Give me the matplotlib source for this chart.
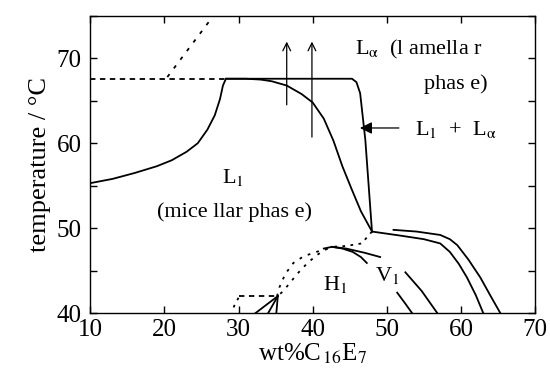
import numpy as np
import matplotlib
matplotlib.use("Agg")
import matplotlib.pyplot as plt
from matplotlib.ticker import MultipleLocator

plt.rcParams['font.family'] = ['Liberation Serif', 'DejaVu Serif']
plt.rcParams['mathtext.fontset'] = 'stix'

### Phase boundaries (wt% C16E7, temperature / degC)

# L1 / L1+La lower boundary (left branch -> plateau -> descending branch)
l1_x = [10, 13, 16, 19, 21, 23, 24.5, 25.8, 26.8, 27.5, 27.9, 28.3, 31, 33, 34.5, 36.5, 38.5, 40, 41.5, 42.8, 44, 45.3, 46.5, 48]
l1_y = [55.3, 55.8, 56.5, 57.3, 58.0, 59.0, 60.0, 61.6, 63.3, 65.2, 66.8, 67.6, 67.6, 67.5, 67.3, 66.8, 65.8, 64.8, 62.9, 60.3, 57.3, 54.5, 52.0, 49.6]

# upper boundary of the two-phase region
la_x = [28.3, 35, 40, 45.3, 45.9, 46.4, 47.1, 48]
la_y = [67.6, 67.6, 67.6, 67.6, 67.2, 65.9, 60.4, 49.6]

# dashed plateau extension and dotted line at top
plat_x = [10, 28.3]
plat_y = [67.6, 67.6]
dot_top_x = [20.4, 26.6]
dot_top_y = [67.8, 75.0]

# right-hand boundaries
r1_x = [48, 52, 55, 57.2, 58.5, 59.7, 60.8, 62.0, 63.0]
r1_y = [49.6, 49.1, 48.7, 48.2, 47.2, 45.8, 44.2, 42.1, 40.0]
r2_x = [50.9, 54, 57.2, 58.5, 59.5, 61.0, 62.6, 64.0, 65.3]
r2_y = [49.8, 49.6, 49.2, 48.7, 48.0, 46.3, 44.2, 42.0, 40.0]

# H1 dome and V1 lines
h1_top_x = [41.5, 42.6, 44.5, 47, 49.1]
h1_top_y = [47.6, 47.8, 47.6, 47.1, 46.6]
h1_low_x = [42.6, 44.0, 45.4, 46.5, 47.3]
h1_low_y = [47.8, 47.6, 47.2, 46.6, 45.9]
v1a_x = [52.5, 54.7, 56.8]
v1a_y = [44.8, 42.6, 40.0]
v1b_x = [51.4, 52.5, 53.4]
v1b_y = [42.4, 41.1, 40.0]

# dotted boundaries
dot1_x = [48, 46.6, 44.5, 42.6]
dot1_y = [49.6, 48.2, 47.9, 47.8]
dot2_x = [42.0, 40.5, 38.8, 37.4, 36.3, 35.5, 35.2]
dot2_y = [47.6, 47.2, 46.7, 45.9, 44.6, 43.0, 42.0]
dot3_x = [42.0, 40.5, 39.2, 37.9, 36.7, 35.8, 35.2]
dot3_y = [47.6, 46.8, 45.8, 44.6, 43.3, 42.4, 42.0]
dot4_x = [30.0, 29.5, 29.1]
dot4_y = [41.8, 41.0, 40.2]

# dashed short segment near 42 degC
dash2_x = [30.0, 35.3]
dash2_y = [42.0, 42.0]

# solid fan lines at the lower left
fan_x = [[35.3, 32.3], [35.3, 34.0], [35.3, 35.1]]
fan_y = [[42.0, 40.0], [42.0, 40.0], [42.0, 40.0]]

fig = plt.figure(figsize=(5.5, 3.79), dpi=100)
ax = fig.add_axes([0.164, 0.174, 0.809, 0.784])

lw = 1.3
ax.plot(l1_x, l1_y, color='black', lw=lw)
ax.plot(la_x, la_y, color='black', lw=lw)
ax.plot(plat_x, plat_y, color='black', lw=lw, ls=(0, (3, 2.5)))
ax.plot(dot_top_x, dot_top_y, color='black', lw=lw, ls=(0, (2, 4)))
ax.plot(r1_x, r1_y, color='black', lw=lw)
ax.plot(r2_x, r2_y, color='black', lw=lw)
ax.plot(h1_top_x, h1_top_y, color='black', lw=lw)
ax.plot(h1_low_x, h1_low_y, color='black', lw=lw)
ax.plot(v1a_x, v1a_y, color='black', lw=lw)
ax.plot(v1b_x, v1b_y, color='black', lw=lw)
ax.plot(dot1_x, dot1_y, color='black', lw=lw, ls=(0, (1.5, 3)))
ax.plot(dot2_x, dot2_y, color='black', lw=lw, ls=(0, (1.5, 3.5)))
ax.plot(dot3_x, dot3_y, color='black', lw=lw, ls=(0, (1.5, 3.5)))
ax.plot(dot4_x, dot4_y, color='black', lw=lw, ls=(0, (1.5, 3)))
ax.plot(dash2_x, dash2_y, color='black', lw=lw, ls=(0, (3, 2.5)))
for fx, fy in zip(fan_x, fan_y):
    ax.plot(fx, fy, color='black', lw=lw)

# vertical arrows
ax.annotate('', xy=(36.5, 72.3), xytext=(36.5, 64.2),
            arrowprops=dict(arrowstyle='->', lw=0.9, color='black', mutation_scale=14))
ax.annotate('', xy=(39.9, 72.3), xytext=(39.9, 60.4),
            arrowprops=dict(arrowstyle='->', lw=0.9, color='black', mutation_scale=14))
# horizontal arrow pointing to the two-phase line
ax.annotate('', xy=(46.0, 61.8), xytext=(52.0, 61.8),
            arrowprops=dict(arrowstyle='-|>', lw=0.9, color='black', mutation_scale=18))

fs = 16
ax.text(45.7, 71.0, r'L$_{\mathrm{α}}$  (l amella r', fontsize=fs, va='center', ha='left')
ax.text(59.3, 67.0, 'phas e)', fontsize=fs, va='center', ha='center')
ax.text(53.8, 61.6, r'L$_1$  +  L$_{\mathrm{α}}$', fontsize=fs, va='center', ha='left')
ax.text(29.2, 56.0, r'L$_1$', fontsize=fs, va='center', ha='center')
ax.text(29.4, 51.9, '(mice llar phas e)', fontsize=fs, va='center', ha='center')
ax.text(43.0, 43.4, r'H$_1$', fontsize=fs, va='center', ha='center')
ax.text(50.0, 44.4, r'V$_1$', fontsize=fs, va='center', ha='center')

ax.set_xlim(10, 70)
ax.set_ylim(40, 75)
ax.xaxis.set_major_locator(MultipleLocator(10))
ax.yaxis.set_major_locator(MultipleLocator(10))
ax.yaxis.set_minor_locator(MultipleLocator(5))
ax.tick_params(which='both', direction='in', top=True, right=True, labelsize=18, width=1.0)
ax.tick_params(which='major', length=5)
ax.tick_params(which='minor', length=5)
ax.tick_params(axis='x', pad=4)
ax.tick_params(axis='y', pad=6)
for s in ax.spines.values():
    s.set_linewidth(1.0)

ax.set_xlabel(r'wt%C$_{\,16}$E$_7$', fontsize=18, labelpad=1)
ax.set_ylabel('temperature / °C', fontsize=19, labelpad=4)

fig.savefig('out.png', dpi=100)
